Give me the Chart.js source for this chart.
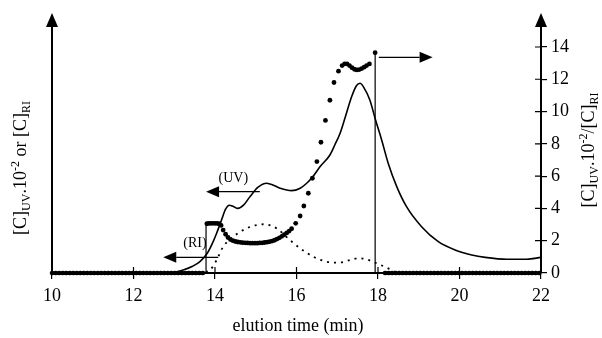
<!DOCTYPE html>
<html>
<head>
<meta charset="utf-8">
<script src="https://cdn.jsdelivr.net/npm/chart.js@4.4.1/dist/chart.umd.min.js"></script>
<style>
  html, body { margin: 0; padding: 0; background: #fff; }
</style>
</head>
<body>
<canvas id="gpc" width="602" height="338"></canvas>
<script>
// elution time (min) and detector traces
const uvTime  = [10, 12.5, 13.0, 13.22, 13.45, 13.63, 13.81, 13.93, 14.04, 14.16, 14.26, 14.35, 14.45, 14.56, 14.7, 14.85, 15.05, 15.27, 15.45, 15.6, 15.88, 16.09, 16.25, 16.39, 16.58, 16.82, 16.94, 17.07, 17.19, 17.35, 17.47, 17.56, 17.65, 17.8, 17.94, 18.09, 18.25, 18.46, 18.7, 19.07, 19.48, 19.89, 20.3, 20.63, 21.16, 21.65, 22];
const uvValue = [0, 0, 0.05, 0.19, 0.42, 0.7, 1.22, 1.8, 2.46, 3.28, 3.95, 4.2, 4.12, 4.0, 4.2, 4.7, 5.3, 5.56, 5.42, 5.25, 5.1, 5.25, 5.56, 5.93, 6.59, 7.31, 7.93, 8.66, 9.6, 10.9, 11.6, 11.75, 11.5, 10.72, 9.48, 8.24, 6.8, 5.35, 4.11, 2.87, 1.94, 1.43, 1.12, 0.97, 0.85, 0.85, 0.97];

const riTime  = [10, 13.6, 13.75, 13.88, 14.04, 14.2, 14.45, 14.78, 15.19, 15.51, 15.84, 16.09, 16.41, 16.74, 17.03, 17.31, 17.52, 17.75, 17.93, 18.25, 18.45, 18.6, 22];
const riValue = [0, 0, 0.05, 0.19, 0.8, 1.63, 2.25, 2.77, 3.02, 2.77, 2.04, 1.53, 1.01, 0.7, 0.64, 0.8, 0.92, 0.82, 0.64, 0.29, 0.05, 0, 0];

// [C]UV.10^-2 / [C]RI
const ratioTime  = [13.80, 13.85, 13.90, 13.95, 14.00, 14.05, 14.10, 14.15, 14.20, 14.26, 14.32, 14.38, 14.44, 14.50, 14.56, 14.62, 14.68, 14.74, 14.80, 14.86, 14.92, 14.98, 15.04, 15.10, 15.16, 15.22, 15.28, 15.34, 15.40, 15.46, 15.52, 15.58, 15.64, 15.70, 15.76, 15.82, 15.88, 15.98, 16.09, 16.18, 16.29, 16.39, 16.50, 16.60, 16.71, 16.82, 16.92, 17.03, 17.12, 17.18, 17.24, 17.30, 17.36, 17.42, 17.48, 17.54, 17.60, 17.66, 17.72, 17.79, 17.93];
const ratioValue = [3.05, 3.07, 3.08, 3.08, 3.08, 3.07, 3.05, 2.95, 2.66, 2.40, 2.20, 2.07, 2.00, 1.95, 1.92, 1.90, 1.88, 1.87, 1.86, 1.85, 1.85, 1.85, 1.85, 1.86, 1.87, 1.89, 1.91, 1.94, 1.98, 2.03, 2.10, 2.18, 2.27, 2.37, 2.48, 2.60, 2.74, 3.08, 3.53, 4.15, 4.94, 5.87, 6.9, 8.1, 9.45, 10.7, 11.8, 12.5, 12.85, 12.95, 12.95, 12.85, 12.72, 12.62, 12.58, 12.6, 12.66, 12.75, 12.85, 12.95, 13.65];
// ratio is zero outside the peak window
const ratioZeroStart = [10, 18.17];
const ratioZeroEnd   = [13.75, 22];
// window edges of the ratio trace
const windowTime  = [13.78, 17.93];
const windowValue = [3.07, 13.65];

const timeTicks = [10, 12, 14, 16, 18, 20, 22];
const ratioTicks = [0, 2, 4, 6, 8, 10, 12, 14];

const pts = (xs, ys) => xs.map((x, i) => ({ x: x, y: ys[i] }));

const zeroSegments = [];
ratioZeroStart.forEach((s, i) => {
  if (i > 0) zeroSegments.push({ x: (ratioZeroEnd[i - 1] + s) / 2, y: null });
  zeroSegments.push({ x: s, y: 0 }, { x: ratioZeroEnd[i], y: 0 });
});

const windowLines = [
  { x: windowTime[0], y: 0 }, { x: windowTime[0], y: windowValue[0] },
  { x: 15.8, y: null },
  { x: windowTime[1], y: windowValue[1] }, { x: windowTime[1], y: 0 }
];

const SERIF = "'Liberation Serif', 'Times New Roman', serif";
Chart.defaults.font.family = SERIF;
Chart.defaults.color = '#000';

function drawArrow(ctx, x1, x2, y) {
  const dir = Math.sign(x2 - x1);
  const head = 13;
  ctx.lineWidth = 1.3;
  ctx.beginPath();
  ctx.moveTo(x1, y);
  ctx.lineTo(x2 - dir * head, y);
  ctx.stroke();
  ctx.beginPath();
  ctx.moveTo(x2, y);
  ctx.lineTo(x2 - dir * head, y - 5.5);
  ctx.lineTo(x2 - dir * head, y + 5.5);
  ctx.closePath();
  ctx.fill();
}

// text with sub/superscripts, rotated to read bottom-up
function drawRich(ctx, parts, cx, cy) {
  const big = '18px ' + SERIF, small = '12px ' + SERIF;
  let w = 0;
  parts.forEach(p => { ctx.font = p[1] ? small : big; w += ctx.measureText(p[0]).width; });
  ctx.save();
  ctx.translate(cx, cy);
  ctx.rotate(-Math.PI / 2);
  ctx.textAlign = 'left';
  ctx.textBaseline = 'alphabetic';
  let x = -w / 2;
  parts.forEach(p => {
    ctx.font = p[1] ? small : big;
    const dy = p[1] === 'sub' ? 4 : p[1] === 'sup' ? -7 : 0;
    ctx.fillText(p[0], x, 6 + dy);
    x += ctx.measureText(p[0]).width;
  });
  ctx.restore();
}

const decor = {
  id: 'decor',
  afterDraw(chart) {
    const { ctx, chartArea: a, scales: { x, yR } } = chart;
    ctx.save();
    ctx.strokeStyle = '#000';
    ctx.fillStyle = '#000';

    // tick marks crossing into the plot
    ctx.lineWidth = 1.2;
    ctx.beginPath();
    x.ticks.forEach(t => {
      if (t.value > 10 && t.value < 22) {
        const px = x.getPixelForValue(t.value);
        ctx.moveTo(px, a.bottom);
        ctx.lineTo(px, a.bottom - 6);
      }
    });
    yR.ticks.forEach(t => {
      const py = yR.getPixelForValue(t.value);
      ctx.moveTo(a.right, py);
      ctx.lineTo(a.right - 6, py);
    });
    ctx.stroke();

    // arrowheads on both vertical axes
    [a.left, a.right].forEach(px => {
      ctx.beginPath();
      ctx.moveTo(px, 13);
      ctx.lineTo(px - 6, a.top + 1);
      ctx.lineTo(px + 6, a.top + 1);
      ctx.closePath();
      ctx.fill();
    });

    // which axis each trace belongs to
    const X = v => x.getPixelForValue(v);
    const Y = v => yR.getPixelForValue(v);
    drawArrow(ctx, X(15.1), X(13.78), Y(5.04));
    drawArrow(ctx, X(14.08), X(12.73), Y(0.97));
    drawArrow(ctx, X(18.02), X(19.34), Y(13.36));

    ctx.font = '14px ' + SERIF;
    ctx.textAlign = 'center';
    ctx.textBaseline = 'middle';
    ctx.fillText('(UV)', X(14.45), Y(5.88));
    ctx.fillText('(RI)', X(13.51), Y(1.86));

    ctx.font = '18px ' + SERIF;
    ctx.fillText('elution time (min)', 298, 326);

    drawRich(ctx, [['[C]'], ['UV', 'sub'], ['.10'], ['-2', 'sup'], [' or [C]'], ['RI', 'sub']], 20, 168);
    drawRich(ctx, [['[C]'], ['UV', 'sub'], ['.10'], ['-2', 'sup'], ['/[C]'], ['RI', 'sub']], 588, 150);
    ctx.restore();
  }
};

new Chart(document.getElementById('gpc'), {
  type: 'line',
  data: {
    datasets: [
      {
        label: 'UV',
        data: pts(uvTime, uvValue),
        yAxisID: 'yL',
        borderColor: '#000',
        borderWidth: 1.6,
        pointRadius: 0,
        cubicInterpolationMode: 'monotone'
      },
      {
        label: 'RI',
        data: pts(riTime, riValue),
        yAxisID: 'yL',
        borderColor: '#000',
        borderWidth: 1.8,
        borderDash: [2, 5],
        pointRadius: 0,
        cubicInterpolationMode: 'monotone'
      },
      {
        label: 'ratio',
        data: pts(ratioTime, ratioValue),
        yAxisID: 'yR',
        showLine: false,
        pointRadius: 2.4,
        pointBorderWidth: 0,
        pointBackgroundColor: '#000',
        clip: false
      },
      {
        label: 'ratio zero',
        data: zeroSegments,
        yAxisID: 'yR',
        borderColor: '#000',
        borderWidth: 4.5,
        borderDash: [0.5, 3],
        borderCapStyle: 'round',
        pointRadius: 0,
        spanGaps: false,
        clip: false
      },
      {
        label: 'window',
        data: windowLines,
        yAxisID: 'yR',
        borderColor: '#000',
        borderWidth: 1.2,
        pointRadius: 0,
        spanGaps: false,
        clip: false
      }
    ]
  },
  options: {
    responsive: false,
    animation: false,
    layout: { padding: { top: 26, left: 0, right: 0, bottom: 0 } },
    plugins: { legend: { display: false }, tooltip: { enabled: false } },
    scales: {
      x: {
        type: 'linear',
        min: 10,
        max: 22,
        afterBuildTicks: s => { s.ticks = timeTicks.map(v => ({ value: v })); },
        ticks: { font: { size: 18 }, color: '#000', padding: 6 },
        grid: { drawOnChartArea: false, tickLength: 6, color: '#000', lineWidth: 1.2 },
        border: { color: '#000', width: 2 },
        afterFit: s => { s.height = 65; }
      },
      yL: {
        position: 'left',
        min: 0,
        max: 15.3,
        ticks: { display: false },
        grid: { display: false, drawTicks: false },
        border: { color: '#000', width: 2 },
        afterFit: s => { s.width = 52; }
      },
      yR: {
        position: 'right',
        min: 0,
        max: 15.3,
        afterBuildTicks: s => { s.ticks = ratioTicks.map(v => ({ value: v })); },
        ticks: { font: { size: 18 }, color: '#000', padding: 4 },
        grid: { drawOnChartArea: false, tickLength: 6, color: '#000', lineWidth: 1.2 },
        border: { color: '#000', width: 2 },
        afterFit: s => { s.width = 61; }
      }
    }
  },
  plugins: [decor]
});
</script>
</body>
</html>
